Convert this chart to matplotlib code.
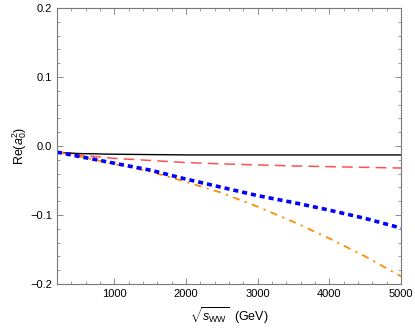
import matplotlib
matplotlib.use("Agg")
import matplotlib.pyplot as plt
from matplotlib.ticker import MultipleLocator

plt.rcParams['font.family'] = ['Liberation Sans', 'DejaVu Sans']
plt.rcParams['mathtext.fontset'] = 'custom'
plt.rcParams['mathtext.rm'] = 'Liberation Sans'
plt.rcParams['mathtext.it'] = 'Liberation Sans:italic'

# sqrt(s_WW) in GeV
sqrt_s = [200, 500, 1000, 1500, 2000, 2500, 3000, 3500, 4000, 4500, 5000]

black_vals = [-0.009, -0.011, -0.012, -0.0125, -0.013, -0.013, -0.013, -0.013, -0.013, -0.013, -0.013]
red_vals = [-0.009, -0.013, -0.018, -0.021, -0.024, -0.026, -0.0275, -0.029, -0.030, -0.031, -0.032]
blue_vals = [-0.009, -0.015, -0.025, -0.035, -0.048, -0.060, -0.072, -0.082, -0.093, -0.105, -0.119]
orange_vals = [-0.009, -0.015, -0.026, -0.037, -0.052, -0.068, -0.088, -0.110, -0.134, -0.160, -0.189]

fig = plt.figure(figsize=(4.15, 3.34), dpi=100)
ax = fig.add_axes([0.137, 0.150, 0.829, 0.826])

ax.plot(sqrt_s, black_vals, color='black', lw=1.0)
ax.plot(sqrt_s, red_vals, color='#ff5050', lw=1.1, dashes=(7, 4))
ax.plot(sqrt_s, orange_vals, color='#ff8c00', lw=1.3, dashes=(4, 3, 1.2, 3))
ax.plot(sqrt_s, blue_vals, color='#0000ff', lw=2.6, dashes=(1.4, 1.1))

ax.set_xlim(200, 5000)
ax.set_ylim(-0.2, 0.2)
ax.set_xticks([1000, 2000, 3000, 4000, 5000])
ax.set_yticks([-0.2, -0.1, 0.0, 0.1, 0.2])
ax.set_yticklabels(['\u22120.2', '\u22120.1', '0.0', '0.1', '0.2'])
ax.xaxis.set_minor_locator(MultipleLocator(200))
ax.yaxis.set_minor_locator(MultipleLocator(0.02))
ax.tick_params(which='both', direction='in', top=True, right=True,
               color='#777777', labelsize=8)
ax.tick_params(which='major', length=4.5, width=0.6)
ax.tick_params(which='minor', length=2.5, width=0.5)
for sp in ax.spines.values():
    sp.set_color('#777777')
    sp.set_linewidth(0.8)

ax.set_xlabel(r'$\sqrt{s_{\rm WW}}$  (GeV)', fontsize=9, labelpad=5)
ax.set_ylabel(r'Re($a_0^2$)', fontsize=9, labelpad=1)

fig.savefig('out.png', dpi=100)
